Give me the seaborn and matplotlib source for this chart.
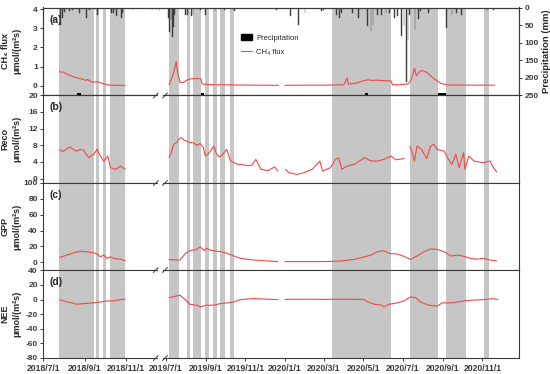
import numpy as np
import pandas as pd
import matplotlib
matplotlib.use('Agg')
import matplotlib.pyplot as plt
from matplotlib.patches import Patch, Rectangle
from matplotlib.lines import Line2D
import matplotlib.dates as mdates
import seaborn as sns

# ---- data ----
shade_start = ['2018-07-25', '2018-09-18', '2018-09-28', '2018-10-09',
               '2019-07-06', '2019-08-02', '2019-08-12', '2019-08-30', '2019-09-12',
               '2019-09-23', '2019-10-08', '2020-03-14', '2020-07-12', '2020-09-06',
               '2020-11-04']
shade_end = ['2018-09-15', '2018-09-22', '2018-10-03', '2018-10-31',
             '2019-07-22', '2019-08-07', '2019-08-25', '2019-09-05', '2019-09-18',
             '2019-10-01', '2019-10-14', '2020-06-13', '2020-08-24', '2020-10-07',
             '2020-11-11']

precip_dates = ['2018-07-27', '2018-07-29', '2018-08-01', '2018-08-09', '2018-08-14',
                '2018-08-24', '2018-09-03', '2018-09-08', '2018-09-16', '2018-09-20',
                '2018-10-10', '2018-10-14', '2018-10-18', '2018-10-25', '2018-10-27',
                '2018-11-20', '2018-12-20', '2019-03-15', '2019-04-20', '2019-05-20',
                '2019-06-15', '2019-07-05', '2019-07-07', '2019-07-09', '2019-07-11',
                '2019-07-13', '2019-07-15', '2019-07-31', '2019-08-04', '2019-08-10',
                '2019-08-12', '2019-08-23', '2019-08-31', '2019-09-15', '2019-09-30',
                '2019-10-15', '2019-12-19', '2020-01-09', '2020-01-22', '2020-02-01',
                '2020-02-26', '2020-03-01', '2020-03-21', '2020-03-25', '2020-03-29',
                '2020-04-14', '2020-04-23', '2020-05-08', '2020-05-13', '2020-05-16',
                '2020-05-23', '2020-05-29', '2020-06-05', '2020-06-11', '2020-06-18',
                '2020-06-23', '2020-06-29', '2020-07-03', '2020-07-07', '2020-07-09',
                '2020-07-12', '2020-07-20', '2020-07-25', '2020-07-28', '2020-08-10',
                '2020-09-07', '2020-09-15', '2020-09-22', '2020-09-30', '2020-11-08',
                '2020-11-18']
precip_mm = [49, 29, 12, 10, 8, 17, 29, 8, 6, 20,
             15, 15, 25, 29, 15, 6, 4, 5, 8, 6,
             10, 29, 69, 35, 85, 57, 20, 20, 20, 25,
             20, 8, 20, 10, 8, 10, 8, 25, 49, 15,
             10, 8, 20, 29, 15, 15, 29, 54, 68, 49,
             20, 20, 15, 15, 29, 25, 82, 54, 212, 92,
             20, 63, 34, 10, 15, 58, 20, 15, 20, 10,
             6]

# short black marks at the base of panel (a)
mark_dates = ['2018-08-23', '2019-08-27', '2020-05-06', '2020-08-31']
mark_days = [5, 4, 5, 12]

ch4_dates = ['2018-07-25', '2018-07-28', '2018-07-31', '2018-08-04', '2018-08-09',
             '2018-08-14', '2018-08-19', '2018-08-24', '2018-08-29', '2018-09-03',
             '2018-09-05', '2018-09-08', '2018-09-13', '2018-09-18', '2018-09-23',
             '2018-09-28', '2018-10-03', '2018-10-08', '2018-10-20', '2018-10-31',
             '2019-01-01',
             '2019-07-06', '2019-07-09', '2019-07-11', '2019-07-14', '2019-07-17',
             '2019-07-18', '2019-07-20', '2019-07-23', '2019-07-28', '2019-08-02',
             '2019-08-07', '2019-08-15', '2019-08-20', '2019-08-24', '2019-08-26',
             '2019-09-02', '2019-09-20', '2019-10-15', '2019-11-15', '2019-12-22',
             '2019-12-27',
             '2020-01-01', '2020-02-01', '2020-03-01', '2020-04-01', '2020-04-06',
             '2020-04-08', '2020-04-22', '2020-04-27', '2020-05-08', '2020-05-13',
             '2020-05-23', '2020-06-02', '2020-06-13', '2020-06-15', '2020-06-28',
             '2020-07-10', '2020-07-13', '2020-07-16', '2020-07-19', '2020-07-22',
             '2020-07-26', '2020-07-30', '2020-08-03', '2020-08-07', '2020-08-12',
             '2020-08-17', '2020-08-22', '2020-08-28', '2020-09-07', '2020-10-15',
             '2020-11-20']
ch4_vals = [0.74, 0.70, 0.72, 0.62, 0.55, 0.48, 0.42, 0.38, 0.33, 0.28,
            0.33, 0.25, 0.18, 0.21, 0.17, 0.10, 0.06, 0.03, 0.02, 0.02,
            None,
            0.05, 0.30, 0.48, 0.80, 1.26, 0.95, 0.57, 0.17, 0.17, 0.28,
            0.35, 0.38, 0.36, 0.37, 0.10, 0.06, 0.05, 0.04, 0.03, 0.02,
            None,
            0.02, 0.03, 0.03, 0.05, 0.40, 0.08, 0.15, 0.22, 0.31, 0.28,
            0.29, 0.26, 0.25, 0.05, 0.05, 0.10, 0.25, 0.50, 0.92, 0.52,
            0.70, 0.80, 0.75, 0.70, 0.55, 0.40, 0.28, 0.14, 0.04, 0.03,
            0.03]

reco_dates = ['2018-07-25', '2018-07-30', '2018-08-05', '2018-08-10', '2018-08-15',
              '2018-08-20', '2018-08-25', '2018-08-30', '2018-09-03', '2018-09-07',
              '2018-09-11', '2018-09-14', '2018-09-19', '2018-09-24', '2018-09-29',
              '2018-10-05', '2018-10-09', '2018-10-17', '2018-10-24', '2018-10-31',
              '2019-01-01',
              '2019-07-06', '2019-07-10', '2019-07-13', '2019-07-18', '2019-07-21',
              '2019-07-25', '2019-07-29', '2019-08-02', '2019-08-07', '2019-08-12',
              '2019-08-18', '2019-08-23', '2019-08-28', '2019-08-31', '2019-09-05',
              '2019-09-08', '2019-09-13', '2019-09-17', '2019-09-21', '2019-09-25',
              '2019-09-29', '2019-10-03', '2019-10-09', '2019-10-20', '2019-10-26',
              '2019-11-04', '2019-11-11', '2019-11-17', '2019-11-25', '2019-12-06',
              '2019-12-16', '2019-12-21', '2019-12-27',
              '2020-01-02', '2020-01-07', '2020-01-20', '2020-01-30', '2020-02-12',
              '2020-02-24', '2020-02-28', '2020-03-11', '2020-03-19', '2020-03-24',
              '2020-03-29', '2020-04-06', '2020-04-17', '2020-05-03', '2020-05-13',
              '2020-05-23', '2020-06-02', '2020-06-13', '2020-06-20', '2020-07-03',
              '2020-07-06',
              '2020-07-12', '2020-07-15', '2020-07-19', '2020-07-23', '2020-07-30',
              '2020-08-07', '2020-08-13', '2020-08-18', '2020-08-23', '2020-09-03',
              '2020-09-08', '2020-09-15', '2020-09-21', '2020-09-26', '2020-10-03',
              '2020-10-05', '2020-10-11', '2020-10-19', '2020-11-03', '2020-11-13',
              '2020-11-18', '2020-11-23']
reco_vals = [6.9, 6.5, 7.1, 7.6, 6.9, 6.6, 7.0, 6.8, 5.8, 5.0,
             5.6, 5.8, 7.0, 5.4, 4.2, 5.4, 2.6, 2.2, 3.0, 2.2,
             None,
             5.0, 6.5, 8.2, 8.6, 9.5, 9.8, 9.2, 9.0, 8.6, 8.6,
             8.0, 8.4, 7.5, 5.4, 6.0, 6.6, 7.8, 6.0, 5.2, 5.5,
             6.2, 7.0, 4.2, 3.4, 3.4, 3.1, 3.2, 4.6, 2.2, 1.9,
             2.8, 1.8, None,
             2.2, 1.4, 1.0, 1.4, 2.2, 4.2, 1.8, 2.6, 4.6, 5.0,
             2.2, 3.0, 3.4, 5.0, 4.2, 4.2, 4.6, 5.4, 4.5, 4.8,
             None,
             7.8, 6.6, 4.2, 7.8, 7.0, 4.8, 7.8, 8.2, 7.0, 6.6,
             5.0, 3.4, 5.8, 2.6, 6.2, 2.2, 5.4, 4.2, 3.8, 4.2,
             2.6, 1.6]

gpp_dates = ['2018-07-25', '2018-07-30', '2018-08-05', '2018-08-10', '2018-08-15',
             '2018-08-20', '2018-08-25', '2018-08-30', '2018-09-04', '2018-09-09',
             '2018-09-14', '2018-09-19', '2018-09-24', '2018-09-29', '2018-10-04',
             '2018-10-09', '2018-10-14', '2018-10-24', '2018-10-31',
             '2019-01-01',
             '2019-07-06', '2019-07-15', '2019-07-23', '2019-07-27', '2019-07-31',
             '2019-08-07', '2019-08-12', '2019-08-18', '2019-08-23', '2019-08-29',
             '2019-09-02', '2019-09-08', '2019-09-13', '2019-09-23', '2019-10-04',
             '2019-10-14', '2019-10-25', '2019-11-14', '2019-12-06', '2019-12-21',
             '2019-12-27',
             '2020-01-01', '2020-01-25', '2020-02-25', '2020-03-11', '2020-03-27',
             '2020-04-17', '2020-05-03', '2020-05-13', '2020-05-23', '2020-06-02',
             '2020-06-10', '2020-06-23', '2020-07-03', '2020-07-13', '2020-07-23',
             '2020-08-03', '2020-08-13', '2020-08-23', '2020-09-03', '2020-09-13',
             '2020-09-24', '2020-10-04', '2020-10-14', '2020-10-24', '2020-11-03',
             '2020-11-13', '2020-11-23']
gpp_vals = [6.3, 7.5, 9.2, 10.5, 12.1, 13.0, 14.2, 13.5, 13.5, 12.5,
            12.1, 10.5, 7.0, 9.2, 5.0, 7.0, 5.0, 4.0, 2.0,
            None,
            3.8, 3.2, 3.0, 7.0, 11.3, 14.6, 15.5, 16.4, 19.7, 14.6,
            17.6, 15.5, 14.6, 13.6, 11.3, 8.0, 5.0, 3.0, 1.8, 1.0,
            None,
            1.0, 1.0, 1.0, 1.2, 1.8, 3.8, 7.0, 9.2, 13.5, 14.6,
            11.3, 10.5, 7.5, 3.8, 8.0, 13.5, 16.9, 16.4, 13.5, 8.0,
            9.2, 7.5, 5.0, 4.0, 5.0, 3.0, 1.8]

nee_dates = ['2018-07-25', '2018-08-05', '2018-08-15', '2018-08-20', '2018-08-30',
             '2018-09-14', '2018-09-24', '2018-10-04', '2018-10-14', '2018-10-24',
             '2018-10-31',
             '2019-01-01',
             '2019-07-06', '2019-07-15', '2019-07-23', '2019-07-31', '2019-08-07',
             '2019-08-18', '2019-08-23', '2019-09-02', '2019-09-13', '2019-09-23',
             '2019-10-04', '2019-10-14', '2019-10-25', '2019-11-14', '2019-12-06',
             '2019-12-21',
             '2019-12-27',
             '2020-01-01', '2020-02-01', '2020-03-01', '2020-04-01', '2020-05-01',
             '2020-05-08', '2020-05-18', '2020-05-29', '2020-06-02', '2020-06-10',
             '2020-06-23', '2020-07-03', '2020-07-13', '2020-07-21', '2020-07-28',
             '2020-08-10', '2020-08-23', '2020-08-31', '2020-09-13', '2020-09-24',
             '2020-10-04', '2020-10-14', '2020-11-03', '2020-11-18', '2020-11-25']
nee_vals = [0.0, -3.2, -5.0, -6.4, -5.5, -4.5, -3.2, -1.8, -1.8, 0.0,
            0.5,
            None,
            2.7, 4.5, 5.9, 0.0, -6.4, -7.7, -10.0, -7.7, -7.7, -5.5,
            -4.5, -3.2, 0.0, 1.4, 0.5, 0.0,
            None,
            0.3, 0.5, 0.3, 0.5, 0.3, -3.2, -6.4, -7.7, -10.0, -6.4,
            -4.5, -1.8, 3.6, 2.7, -3.2, -7.7, -9.0, -4.5, -4.5, -3.2,
            -1.8, -0.9, 0.0, 1.4, 0.0]

xtick_dates = ['2018-07-01', '2018-09-01', '2018-11-01', '2019-07-01', '2019-09-01',
               '2019-11-01', '2020-01-01', '2020-03-01', '2020-05-01', '2020-07-01',
               '2020-09-01', '2020-11-01']

# ---- broken time axis: the winter 2018/19 is squeezed ----
knot_dates = ['2017-01-01', '2018-07-01', '2018-11-10', '2019-06-22', '2020-12-28', '2022-12-31']
knot_pos = [-355.0, 0.0, 88.7, 116.7, 476.0, 952.0]
knot_num = mdates.date2num(pd.to_datetime(knot_dates))


def fwd(x):
    return np.interp(x, knot_num, knot_pos)


def inv(y):
    return np.interp(y, knot_pos, knot_num)


def series(dates, vals):
    df = pd.DataFrame({'date': pd.to_datetime(dates),
                       'val': pd.Series(vals, dtype='float')})
    df['seg'] = df['val'].isna().cumsum()
    return df.dropna()


RED = '#f04848'
SHADE = '#c6c6c6'
SPINE = '#3a3a3a'

sns.set_style('ticks')
plt.rcParams['font.family'] = ['Liberation Sans', 'DejaVu Sans']
plt.rcParams['axes.edgecolor'] = SPINE
plt.rcParams['axes.linewidth'] = 0.8
plt.rcParams['xtick.color'] = SPINE
plt.rcParams['ytick.color'] = SPINE

fig, axes = plt.subplots(4, 1, figsize=(5.5, 3.74), dpi=100, sharex=True)
fig.subplots_adjust(left=43.3 / 550, right=519.3 / 550, top=1 - 7.5 / 374,
                    bottom=1 - 358 / 374, hspace=0)

panels = [
    (ch4_dates, ch4_vals, 'CH₄ flux', (-0.49, 4.08), [0, 1, 2, 3, 4], '(a)'),
    (reco_dates, reco_vals, 'Reco', (-1, 20), [0, 4, 8, 12, 16, 20], '(b)'),
    (gpp_dates, gpp_vals, 'GPP', (-10, 100), [0, 20, 40, 60, 80, 100], '(c)'),
    (nee_dates, nee_vals, 'NEE', (-80, 40), [-80, -60, -40, -20, 0, 20, 40], '(d)'),
]

for ax, (dts, vals, name, ylim, yt, tag) in zip(axes, panels):
    for s, e in zip(shade_start, shade_end):
        ax.axvspan(pd.Timestamp(s), pd.Timestamp(e), color=SHADE, lw=0, zorder=0)
    df = series(dts, vals)
    sns.lineplot(data=df, x='date', y='val', units='seg', estimator=None,
                 color=RED, lw=0.8, ax=ax, legend=False, zorder=3)
    ax.set_ylim(*ylim)
    ax.set_yticks(yt)
    ax.set_yticklabels([str(v) for v in yt], fontsize=6, fontweight='bold')
    ax.set_ylabel(name + '\nμmol/(m²s)', fontsize=6.5, fontweight='bold',
                  linespacing=1.3)
    ax.yaxis.set_label_coords(-0.047, 0.5)
    ax.set_xlabel('')
    ax.tick_params(axis='both', direction='out', length=2.5, width=0.7, pad=1.5)
    ax.text(0.012, 0.92, tag, transform=ax.transAxes, fontsize=7.5,
            fontweight='bold', va='top', ha='left')

# precipitation on an inverted right axis of panel (a)
ax2 = axes[0].twinx()
ax2.bar(pd.to_datetime(precip_dates), precip_mm, width=1.3, color='#3c3c3c',
        edgecolor='#3c3c3c', linewidth=0.3, zorder=2)
ax2.bar(pd.to_datetime(mark_dates), [-7] * len(mark_dates), bottom=250,
        width=mark_days, color='black', linewidth=0)
ax2.set_ylim(250, 0)
ax2.set_yticks([0, 50, 100, 150, 200, 250])
ax2.set_yticklabels(['0', '50', '100', '150', '200', '250'], fontsize=6,
                    fontweight='bold')
ax2.tick_params(axis='y', direction='out', length=2.5, width=0.7, pad=1.5)
ax2.set_ylabel('Precipitation (mm)', fontsize=6.8, fontweight='bold', labelpad=2)

handles = [Patch(facecolor='black', edgecolor='black', label='Precipitation'),
           Line2D([0], [0], color=RED, lw=0.8, label='CH₄ flux')]
ax2.legend(handles=handles, loc='upper left', bbox_to_anchor=(0.415, 0.70),
           frameon=False, fontsize=5.5, handlelength=1.4, handleheight=0.9,
           handletextpad=0.6, labelspacing=0.9, borderpad=0, borderaxespad=0)

# apply the squeezed time scale and the date ticks
axes[-1].set_xscale('function', functions=(fwd, inv))
axes[-1].set_xlim(pd.Timestamp('2018-07-01'), pd.Timestamp('2020-12-28'))
tick_num = mdates.date2num(pd.to_datetime(xtick_dates))
axes[-1].set_xticks(tick_num)
axes[-1].set_xticklabels([pd.Timestamp(d).strftime('%Y/%-m/%-d') for d in xtick_dates],
                         fontsize=6.2, fontweight='bold')
for ax in axes:
    ax.xaxis.set_minor_locator(plt.NullLocator())

# break marks on every horizontal line
for ypx in [95.5, 183.0, 270.0, 358.0]:
    yf = 1 - ypx / 374
    fig.add_artist(Rectangle((158.3 / 550, yf - 1.2 / 374), 4.6 / 550, 2.4 / 374,
                             transform=fig.transFigure, facecolor='white',
                             edgecolor='none', zorder=5))
    for x0 in [153.3, 162.5]:
        fig.add_artist(Line2D([x0 / 550, (x0 + 5) / 550],
                              [yf - 2.5 / 374, yf + 2.5 / 374],
                              transform=fig.transFigure, color=SPINE, lw=0.7,
                              zorder=6))

fig.savefig('out.png', dpi=100)
